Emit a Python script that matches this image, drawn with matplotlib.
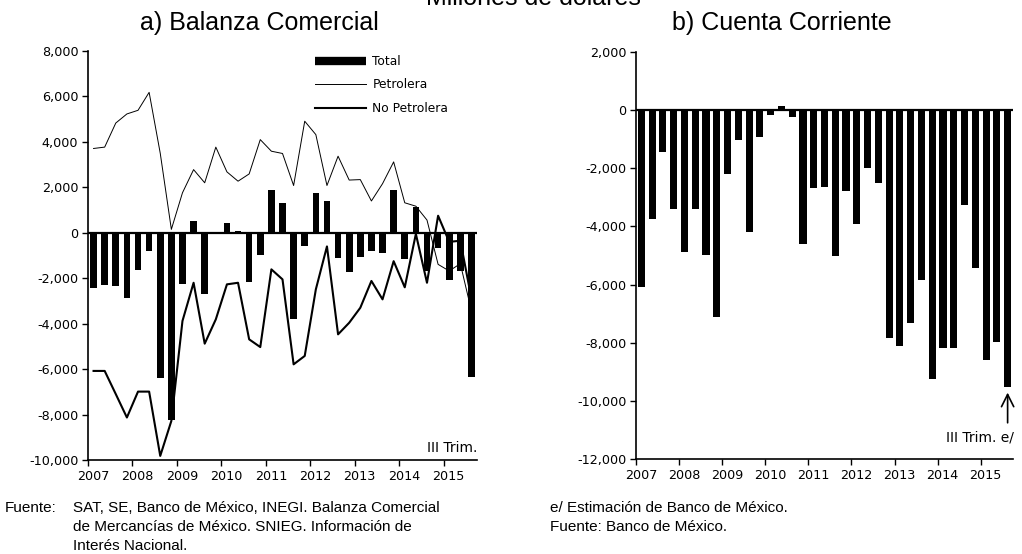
import matplotlib
matplotlib.use("Agg")
import matplotlib.pyplot as plt
from matplotlib.lines import Line2D
from matplotlib.transforms import ScaledTranslation
import numpy as np

# ---------------- data ----------------
years = [2007, 2008, 2009, 2010, 2011, 2012, 2013, 2014, 2015]
n_quarters = 35  # 2007 I - 2015 III

total = [-2420, -2300, -2340, -2860, -1640, -780, -6370, -8260, -2270, 510,
         -2710, -40, 440, 60, -2150, -980, 1900, 1290, -3810, -590,
         1760, 1390, -1130, -1720, -1050, -800, -880, 1880, -1170, 1130,
         -1700, -690, -2100, -1690, -6340]
petrolera = [3710, 3770, 4830, 5230, 5390, 6180, 3500, 150, 1760, 2780,
             2200, 3770, 2680, 2270, 2590, 4100, 3590, 3490, 2080, 4910,
             4320, 2080, 3370, 2320, 2340, 1400, 2160, 3120, 1320, 1170,
             560, -1390, -1680, -1360, -3440]
no_petrolera = [-6080, -6080, -7100, -8130, -6990, -6990, -9820, -8280, -3880, -2200,
                -4880, -3810, -2270, -2200, -4690, -5030, -1610, -2050, -5790, -5420,
                -2490, -600, -4470, -3960, -3300, -2120, -2930, -1250, -2400, -50,
                -2200, 750, -400, -350, -2900]
cuenta_corriente = [-6100, -3750, -1440, -3410, -4870, -3410, -4990, -7100, -2190, -1040,
                    -4190, -920, -170, 140, -230, -4620, -2690, -2630, -5020, -2790,
                    -3920, -1990, -2500, -7830, -8120, -7310, -5840, -9250, -8180, -8180,
                    -3270, -5430, -8600, -7980, -9540]

left_yticks = [8000, 6000, 4000, 2000, 0, -2000, -4000, -6000, -8000, -10000]
right_yticks = [2000, 0, -2000, -4000, -6000, -8000, -10000, -12000]

# ---------------- style ----------------
plt.rcParams['font.family'] = ['DejaVu Sans']
plt.rcParams['axes.unicode_minus'] = False

W, H = 1022, 554
fig = plt.figure(figsize=(W / 100, H / 100), dpi=100)

x = 2007 + (np.arange(n_quarters) + 0.5) / 4.0
x_end = 2007 + n_quarters / 4.0


def fmt(v):
    return f"{v:,.0f}"


def style_axes(ax, yticks):
    for s in ['top', 'right']:
        ax.spines[s].set_visible(False)
    for s in ['left', 'bottom']:
        ax.spines[s].set_linewidth(1.2)
        ax.spines[s].set_color('black')
    ax.set_xlim(2007, x_end)
    ax.set_xticks(years)
    ax.set_xticklabels([str(y) for y in years], fontsize=9.2)
    ax.set_yticks(yticks)
    ax.set_yticklabels([fmt(v) for v in yticks], fontsize=9.2)
    ax.set_ylim(min(yticks), max(yticks))
    ax.tick_params(axis='both', direction='out', length=4, width=1, color='black', pad=3)
    off = ScaledTranslation(5 / 100, 0, fig.dpi_scale_trans)
    for lab in ax.get_xticklabels():
        lab.set_transform(lab.get_transform() + off)
    ax.axhline(0, color='black', lw=1.6, zorder=4)


# ---------------- left panel ----------------
axL = fig.add_axes([88 / W, 1 - 460 / H, (477 - 88) / W, (460 - 51) / H])
style_axes(axL, left_yticks)
axL.bar(x, total, width=0.15, color='black', zorder=3, label='Total')
axL.plot(x, petrolera, color='black', lw=0.7, zorder=5, label='Petrolera')
axL.plot(x, no_petrolera, color='black', lw=1.5, zorder=5, label='No Petrolera')
axL.text(x_end, -9450, 'III Trim.', ha='right', va='center', fontsize=10)

handles = [Line2D([], [], color='black', lw=6, solid_capstyle='butt'),
           Line2D([], [], color='black', lw=0.7),
           Line2D([], [], color='black', lw=1.5)]
fig.legend(handles, ['Total', 'Petrolera', 'No Petrolera'], loc='upper left',
           bbox_to_anchor=(315 / W, 1 - 55 / H), frameon=False, fontsize=8.8,
           handlelength=4.2, handletextpad=0.5, labelspacing=0.85,
           borderpad=0, borderaxespad=0)

# ---------------- right panel ----------------
axR = fig.add_axes([636 / W, 1 - 459 / H, (1013 - 636) / W, (459 - 52) / H])
style_axes(axR, right_yticks)
axR.bar(x, cuenta_corriente, width=0.165, color='black', zorder=3)
axR.annotate('', xy=(x[-1], cuenta_corriente[-1] - 80), xytext=(x[-1], -10850),
             arrowprops=dict(arrowstyle='->', color='black', lw=1.2,
                             mutation_scale=22))
axR.text(x_end + 0.02, -11250, 'III Trim. e/', ha='right', va='center', fontsize=10,
         clip_on=False)

# ---------------- titles ----------------
fig.text(533 / W, 1 - 5 / H, 'Millones de dólares', ha='center', va='baseline',
         fontsize=18, family=['Liberation Sans', 'DejaVu Sans'])
fig.text(259 / W, 1 - 23 / H, 'a) Balanza Comercial', ha='center', va='center',
         fontsize=18, family=['Liberation Sans', 'DejaVu Sans'])
fig.text(782 / W, 1 - 23 / H, 'b) Cuenta Corriente', ha='center', va='center',
         fontsize=18, family=['Liberation Sans', 'DejaVu Sans'])

# ---------------- footnotes ----------------
fam_note = ['Liberation Sans', 'DejaVu Sans']
fs_note = 11
fig.text(5 / W, 1 - 508 / H, 'Fuente:', ha='left', va='center', fontsize=fs_note, family=fam_note)
fig.text(73 / W, 1 - 508 / H, 'SAT, SE, Banco de México, INEGI. Balanza Comercial',
         ha='left', va='center', fontsize=fs_note, family=fam_note)
fig.text(73 / W, 1 - 527 / H, 'de Mercancías de México. SNIEG. Información de',
         ha='left', va='center', fontsize=fs_note, family=fam_note)
fig.text(73 / W, 1 - 546 / H, 'Interés Nacional.',
         ha='left', va='center', fontsize=fs_note, family=fam_note)
fig.text(550 / W, 1 - 508 / H, 'e/ Estimación de Banco de México.',
         ha='left', va='center', fontsize=fs_note, family=fam_note)
fig.text(550 / W, 1 - 527 / H, 'Fuente: Banco de México.',
         ha='left', va='center', fontsize=fs_note, family=fam_note)

fig.savefig('out.png', dpi=100)
